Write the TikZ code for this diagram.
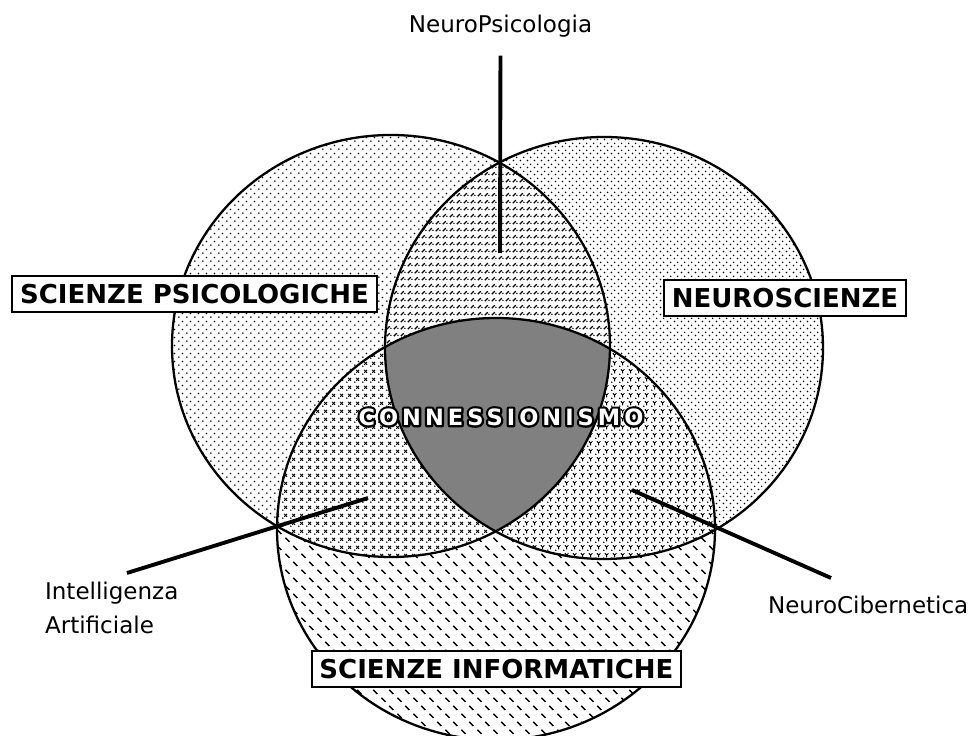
\documentclass[tikz,border=0pt]{standalone}
\usepackage{fontspec}
\setmainfont{DejaVu Sans}
\newfontfamily\corefont{DejaVu Sans}[LetterSpace=18]
\usetikzlibrary{patterns,positioning}
\definecolor{ink}{HTML}{000000}
\definecolor{core}{HTML}{808080}

% fills of the three fields and their overlaps
\pgfdeclarepatternformonly{psydots}{\pgfpointorigin}{\pgfqpoint{4.6pt}{4.6pt}}{\pgfqpoint{4.6pt}{4.6pt}}{%
  \pgfpathcircle{\pgfqpoint{1.15pt}{1.15pt}}{0.55pt}%
  \pgfpathcircle{\pgfqpoint{3.45pt}{3.45pt}}{0.55pt}%
  \pgfusepath{fill}}
\pgfdeclarepatternformonly{neudots}{\pgfpointorigin}{\pgfqpoint{4pt}{4pt}}{\pgfqpoint{4pt}{4pt}}{%
  \pgfpathcircle{\pgfqpoint{1pt}{1pt}}{0.55pt}%
  \pgfpathcircle{\pgfqpoint{3pt}{3pt}}{0.55pt}%
  \pgfusepath{fill}}
\pgfdeclarepatternformonly{infdashes}{\pgfpointorigin}{\pgfqpoint{9pt}{9pt}}{\pgfqpoint{9pt}{9pt}}{%
  \pgfsetlinewidth{0.8pt}%
  \pgfpathmoveto{\pgfqpoint{0.8pt}{3.6pt}}\pgfpathlineto{\pgfqpoint{3.2pt}{1.2pt}}%
  \pgfpathmoveto{\pgfqpoint{5.3pt}{8.1pt}}\pgfpathlineto{\pgfqpoint{7.7pt}{5.7pt}}%
  \pgfusepath{stroke}}
\pgfdeclarepatternformonly{lensdashes}{\pgfpointorigin}{\pgfqpoint{4pt}{4pt}}{\pgfqpoint{4pt}{4pt}}{%
  \pgfsetlinewidth{0.7pt}%
  \pgfpathmoveto{\pgfqpoint{0.5pt}{0.5pt}}\pgfpathlineto{\pgfqpoint{2.5pt}{2.5pt}}%
  \pgfusepath{stroke}%
  \pgfpathcircle{\pgfqpoint{3.2pt}{1.1pt}}{0.5pt}%
  \pgfusepath{fill}}
\pgfdeclarepatternformonly{crossdots}{\pgfpointorigin}{\pgfqpoint{4.6pt}{4.6pt}}{\pgfqpoint{4.6pt}{4.6pt}}{%
  \pgfsetlinewidth{0.6pt}%
  \pgfpathmoveto{\pgfqpoint{1.4pt}{1.4pt}}\pgfpathlineto{\pgfqpoint{3.2pt}{3.2pt}}%
  \pgfpathmoveto{\pgfqpoint{1.4pt}{3.2pt}}\pgfpathlineto{\pgfqpoint{3.2pt}{1.4pt}}%
  \pgfusepath{stroke}%
  \pgfpathcircle{\pgfqpoint{0.5pt}{0.5pt}}{0.5pt}%
  \pgfusepath{fill}}
\pgfdeclarepatternformonly{ydots}{\pgfpointorigin}{\pgfqpoint{4.6pt}{4.6pt}}{\pgfqpoint{4.6pt}{4.6pt}}{%
  \pgfsetlinewidth{0.6pt}%
  \pgfpathmoveto{\pgfqpoint{1.2pt}{3.6pt}}\pgfpathlineto{\pgfqpoint{2.3pt}{2.5pt}}%
  \pgfpathlineto{\pgfqpoint{3.4pt}{3.6pt}}%
  \pgfpathmoveto{\pgfqpoint{2.3pt}{2.5pt}}\pgfpathlineto{\pgfqpoint{2.3pt}{1.1pt}}%
  \pgfusepath{stroke}%
  \pgfpathcircle{\pgfqpoint{0.5pt}{0.5pt}}{0.5pt}%
  \pgfusepath{fill}}

\begin{document}
\begin{tikzpicture}[x=0.02cm,y=-0.02cm,
  disc/.style={x radius=219,y radius=211},
  rim/.style={line width=1.3pt,ink},
  leader/.style={line width=2.2pt,ink},
  areabox/.style={draw=ink,line width=1.1pt,fill=white,inner xsep=4.5pt,inner ysep=4.6pt,
    text height=10.8pt,text depth=0pt,font=\fontsize{14.8}{16}\selectfont\bfseries},
  coretext/.style={inner sep=0pt,font=\corefont\fontsize{12.8}{14}\selectfont\bfseries},
  fieldlabel/.style={inner sep=1pt,align=left,font=\fontsize{13.1}{19.3}\selectfont}]
  \useasboundingbox (0,0) rectangle (974,736);

  % centres of the three fields
  \coordinate (psyc) at (391,346);
  \coordinate (neuc) at (604,348);
  \coordinate (infc) at (496,529);

  % Fields
  \path[disc,pattern=psydots] (psyc) ellipse;
  \path[disc,pattern=neudots] (neuc) ellipse;
  \path[disc,pattern=infdashes] (infc) ellipse;

  % Pairwise overlaps
  \begin{scope}
    \clip[disc] (psyc) ellipse;
    \fill[disc,white] (neuc) ellipse;
    \path[disc,pattern=lensdashes] (neuc) ellipse;
  \end{scope}
  \begin{scope}
    \clip[disc] (psyc) ellipse;
    \fill[disc,white] (infc) ellipse;
    \path[disc,pattern=crossdots] (infc) ellipse;
  \end{scope}
  \begin{scope}
    \clip[disc] (neuc) ellipse;
    \fill[disc,white] (infc) ellipse;
    \path[disc,pattern=ydots] (infc) ellipse;
  \end{scope}

  % Common core
  \begin{scope}
    \clip[disc] (psyc) ellipse;
    \clip[disc] (neuc) ellipse;
    \fill[disc,core] (infc) ellipse;
  \end{scope}

  % Rims
  \foreach \c in {psyc,neuc,infc}
    \draw[disc,rim] (\c) ellipse;

  % Field labels and leaders
  \node[fieldlabel,anchor=base] (np) at (500.5,33) {NeuroPsicologia};
  \node[fieldlabel,anchor=north west] (ia) at (43,580) {Intelligenza\\Artificiale};
  \node[fieldlabel,anchor=north west] (nc) at (766,594) {NeuroCibernetica};
  \coordinate (nptip) at (500,253);
  \coordinate (iatip) at (368,498);
  \coordinate (nctip) at (632,490);
  \draw[leader,shorten <=9pt] (np.south) -- (nptip);
  \draw[leader] ([shift={(84,-7)}]ia.north west) -- (iatip);
  \draw[leader] ([shift={(65,-16)}]nc.north west) -- (nctip);

  % Area boxes
  \node[areabox] (psy) at (194.5,294) {SCIENZE PSICOLOGICHE};
  \node[areabox] (neu) at (785,298) {NEUROSCIENZE};
  \node[areabox] (inf) at (496.5,669) {SCIENZE INFORMATICHE};

  % Core: white letters, black outline
  \node[coretext] (conn) at (501,417)
    {\rlap{\special{pdf:literal direct 1 Tr 2.6 w 1 j}\textcolor{ink}{CONNESSIONISMO}\special{pdf:literal direct 0 Tr}}\textcolor{white}{CONNESSIONISMO}};
\end{tikzpicture}
\end{document}
